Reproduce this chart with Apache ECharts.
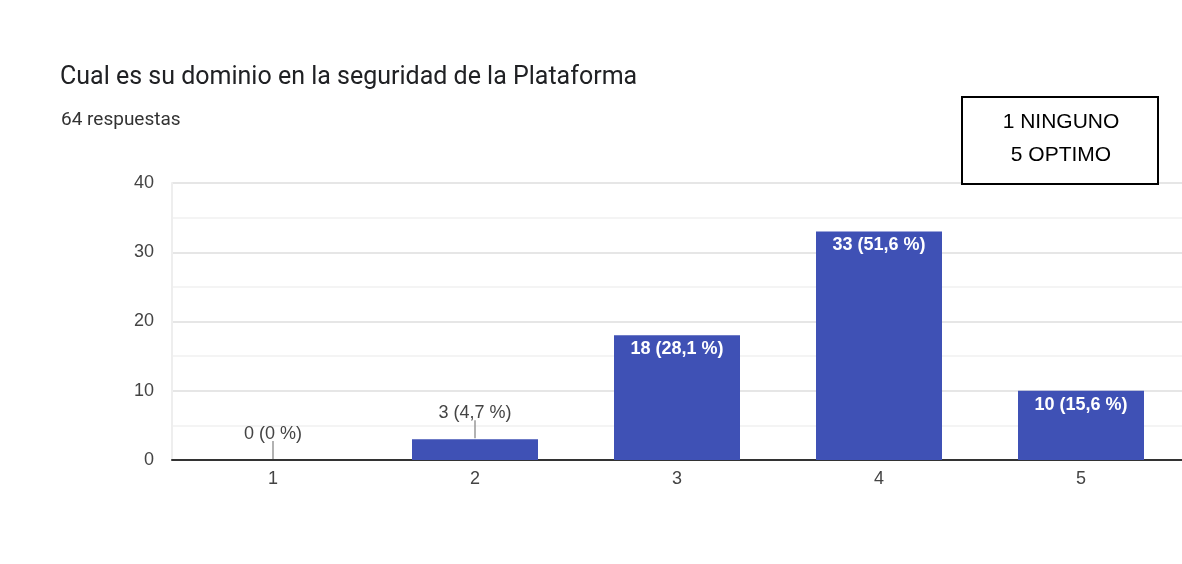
<!DOCTYPE html>
<html>
<head>
<meta charset="utf-8">
<script src="https://cdn.jsdelivr.net/npm/echarts@6/dist/echarts.min.js"></script>
<style>
  html, body { margin: 0; padding: 0; background: #fff; }
  #chart { width: 1182px; height: 564px; }
</style>
</head>
<body>
<div id="chart"></div>
<script>
// data
const categories = ["1", "2", "3", "4", "5"];
const counts = [0, 3, 18, 33, 10];
const percents = ["0", "4,7", "28,1", "51,6", "15,6"];
const yTicks = [0, 10, 20, 30, 40];
const legendLines = ["1 NINGUNO", "5 OPTIMO"];

const chart = echarts.init(document.getElementById("chart"));

// small bars get their label outside, with a short leader line
const outsideIdx = [0, 1];

const barData = counts.map((v, i) => {
  if (outsideIdx.includes(i)) {
    return {
      value: v,
      label: {
        position: "top",
        distance: 17,
        color: "#444",
        fontWeight: "normal",
      },
    };
  }
  return v;
});

const leaderData = outsideIdx.map((i) => [i, counts[i]]);

const option = {
  animation: false,
  title: [
    {
      text: "Cual es su dominio en la seguridad de la Plataforma",
      left: 55,
      top: 60,
      textStyle: {
        fontFamily: "Roboto",
        fontSize: 25,
        fontWeight: "normal",
        color: "#202124",
      },
    },
    {
      text: "64 respuestas",
      left: 56,
      top: 106,
      textStyle: {
        fontFamily: "Roboto",
        fontSize: 19,
        fontWeight: "normal",
        color: "#333",
      },
    },
  ],
  grid: { left: 172, top: 183, width: 1012, height: 277 },
  xAxis: {
    type: "category",
    data: categories,
    axisTick: { show: false },
    axisLine: { lineStyle: { color: "#333", width: 2 } },
    axisLabel: {
      color: "#444",
      fontFamily: "Liberation Sans",
      fontSize: 18,
      margin: 10,
    },
  },
  yAxis: {
    type: "value",
    min: yTicks[0],
    max: yTicks[yTicks.length - 1],
    interval: 10,
    axisLine: { show: true, lineStyle: { color: "#eeeeee", width: 2 } },
    axisTick: { show: false },
    axisLabel: {
      color: "#444",
      fontFamily: "Liberation Sans",
      fontSize: 18,
      margin: 18,
    },
    splitLine: { lineStyle: { color: "#e6e6e6", width: 2 } },
    minorTick: { show: false, splitNumber: 2 },
    minorSplitLine: { show: true, lineStyle: { color: "#f4f4f4", width: 2 } },
  },
  series: [
    {
      type: "bar",
      data: barData,
      barWidth: 126,
      itemStyle: { color: "#3f51b5" },
      label: {
        show: true,
        position: "insideTop",
        distance: 5,
        color: "#fff",
        fontWeight: "bold",
        fontFamily: "Liberation Sans",
        fontSize: 18,
        formatter: (p) => counts[p.dataIndex] + " (" + percents[p.dataIndex] + " %)",
      },
    },
    {
      type: "custom",
      data: leaderData,
      z: 5,
      renderItem: function (params, api) {
        const p = api.coord([api.value(0), api.value(1)]);
        return {
          type: "line",
          shape: { x1: p[0], y1: p[1] - 1, x2: p[0], y2: p[1] - 19 },
          style: { stroke: "#999", lineWidth: 1.5 },
        };
      },
    },
  ],
  graphic: [
    {
      type: "rect",
      z: 100,
      shape: { x: 962, y: 97, width: 196, height: 87 },
      style: { fill: "#fff", stroke: "#000", lineWidth: 2 },
    },
    {
      type: "text",
      z: 101,
      x: 1061,
      y: 122,
      style: {
        text: legendLines[0],
        align: "center",
        verticalAlign: "middle",
        fontFamily: "Liberation Sans",
        fontSize: 21,
        fill: "#000",
      },
    },
    {
      type: "text",
      z: 101,
      x: 1061,
      y: 155,
      style: {
        text: legendLines[1],
        align: "center",
        verticalAlign: "middle",
        fontFamily: "Liberation Sans",
        fontSize: 21,
        fill: "#000",
      },
    },
  ],
};

chart.setOption(option);
</script>
</body>
</html>
